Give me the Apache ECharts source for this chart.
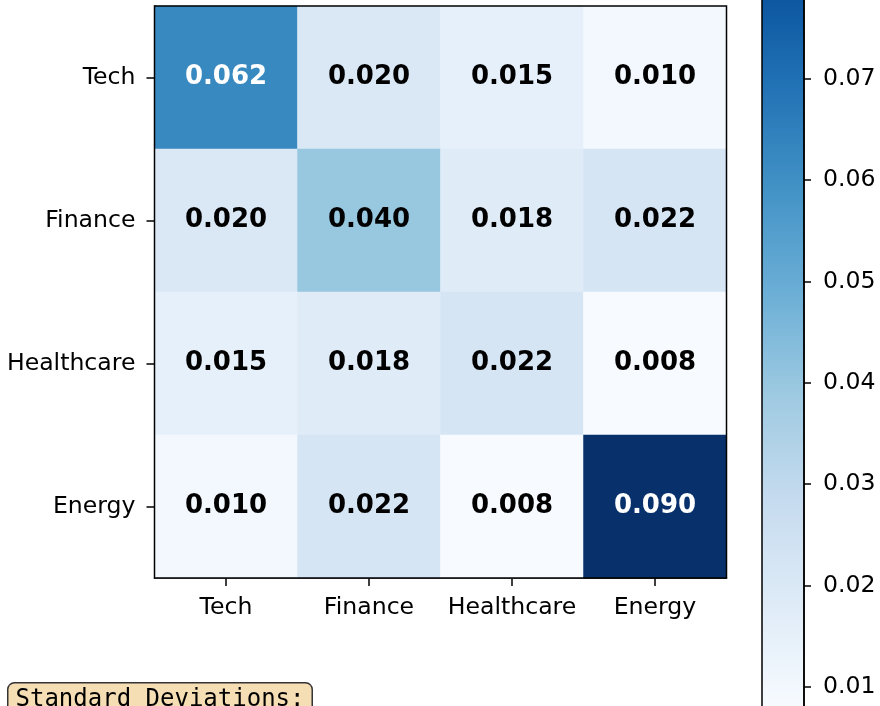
<!DOCTYPE html>
<html>
<head>
<meta charset="utf-8">
<script src="https://cdn.jsdelivr.net/npm/echarts@6/dist/echarts.min.js"></script>
<style>
html,body{margin:0;padding:0;background:#fff;}
#chart{width:880px;height:706px;}
</style>
</head>
<body>
<div id="chart"></div>
<script>
// ---- data ----
const sectors = ['Tech', 'Finance', 'Healthcare', 'Energy'];
const rowTech       = [0.062, 0.020, 0.015, 0.010];
const rowFinance    = [0.020, 0.040, 0.018, 0.022];
const rowHealthcare = [0.015, 0.018, 0.022, 0.008];
const rowEnergy     = [0.010, 0.022, 0.008, 0.090];
const colorbarTicks = [0.01, 0.02, 0.03, 0.04, 0.05, 0.06, 0.07, 0.08];
const vMin = 0.008, vMax = 0.090;
const boxTitle = 'Standard Deviations:';

// ---- style ----
const blues = ['#f7fbff','#deebf7','#c6dbef','#9ecae1','#6baed6','#4292c6','#2171b5','#08519c','#08306b'];
const FONT = '"DejaVu Sans", Verdana, sans-serif';
const rows = [rowTech, rowFinance, rowHealthcare, rowEnergy];
const data = [];
rows.forEach((row, yi) => row.forEach((v, xi) => {
  data.push({
    value: [xi, yi, v],
    label: { color: v > (vMin + vMax) / 2 ? '#ffffff' : '#000000' }
  });
}));

const chart = echarts.init(document.getElementById('chart'), null, {renderer: 'canvas'});
chart.setOption({
  animation: false,
  backgroundColor: '#ffffff',
  grid: [
    { left: 154.5, top: 6, width: 572, height: 572, outerBoundsMode: 'none', containLabel: false,
      show: true, borderColor: '#000', borderWidth: 1.5, backgroundColor: 'transparent', z: 5 },
    { left: 762, top: -124, width: 42, height: 831, outerBoundsMode: 'none', containLabel: false,
      show: true, borderColor: '#000', borderWidth: 1.5,
      backgroundColor: { type: 'linear', x: 0, y: 1, x2: 0, y2: 0,
        colorStops: blues.map((c, i) => ({ offset: i / (blues.length - 1), color: c })) } }
  ],
  xAxis: [
    { gridIndex: 0, type: 'category', data: sectors, position: 'bottom',
      axisLine: { show: true, lineStyle: { color: '#000', width: 1.5 } },
      axisTick: { show: true, alignWithLabel: true, length: 8, lineStyle: { color: '#000', width: 1.5 } },
      axisLabel: { interval: 0, color: '#000', fontSize: 23.6, fontFamily: FONT, margin: 18 },
      splitLine: { show: false }, splitArea: { show: false } },
    { gridIndex: 1, type: 'value', show: false, min: 0, max: 1 }
  ],
  yAxis: [
    { gridIndex: 0, type: 'category', data: sectors, inverse: true,
      axisLine: { show: true, lineStyle: { color: '#000', width: 1.5 } },
      axisTick: { show: true, alignWithLabel: true, length: 8, lineStyle: { color: '#000', width: 1.5 } },
      axisLabel: { interval: 0, color: '#000', fontSize: 23.6, fontFamily: FONT, margin: 19 },
      splitLine: { show: false }, splitArea: { show: false } },
    { gridIndex: 1, type: 'value', position: 'right', min: vMin, max: vMax,
      axisLine: { show: true, onZero: false, lineStyle: { color: '#000', width: 1.5 } },
      axisTick: { show: true, inside: false, length: 7, customValues: colorbarTicks, lineStyle: { color: '#000', width: 1.5 } },
      axisLabel: { show: true, inside: false, customValues: colorbarTicks, color: '#000', fontSize: 23.6, fontFamily: FONT, margin: 19,
        formatter: v => v.toFixed(2) },
      splitLine: { show: false } }
  ],
  visualMap: {
    show: false, type: 'continuous', min: vMin, max: vMax, dimension: 2, seriesIndex: 0,
    inRange: { color: blues }
  },
  series: [{
    type: 'heatmap', xAxisIndex: 0, yAxisIndex: 0, data: data,
    itemStyle: { borderWidth: 0 },
    emphasis: { disabled: true },
    label: { show: true, fontFamily: FONT, fontWeight: 'bold', fontSize: 26,
      formatter: p => p.value[2].toFixed(3) }
  }],
  graphic: [{
    type: 'text', left: 7, top: 682, z: 100,
    style: {
      text: boxTitle,
      font: '24px "DejaVu Sans Mono", monospace',
      fill: '#000',
      backgroundColor: '#f5deb3',
      borderColor: '#333',
      borderWidth: 1.5,
      borderRadius: 6,
      padding: [4, 7, 40, 7]
    }
  }]
});
</script>
</body>
</html>
